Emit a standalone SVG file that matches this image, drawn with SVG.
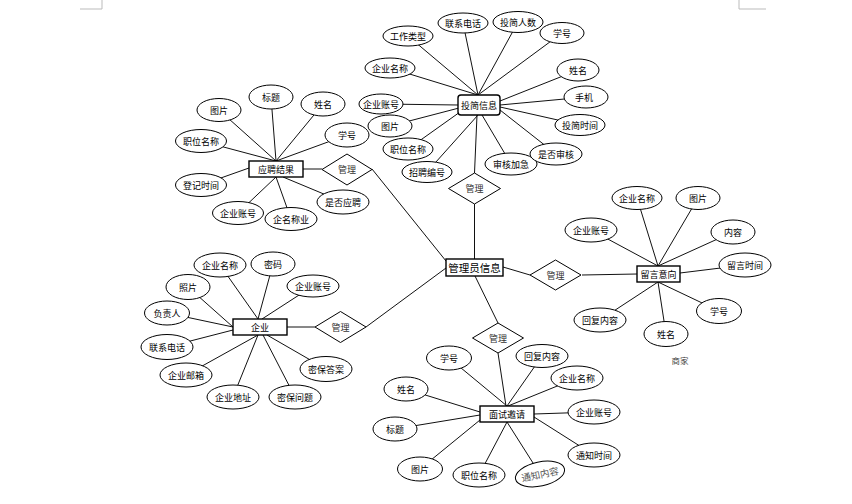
<svg xmlns="http://www.w3.org/2000/svg" width="852" height="504" viewBox="0 0 852 504">
<style>
text{font-family:"Noto Sans CJK SC","Noto Sans",sans-serif;font-size:9px;fill:#000;text-anchor:middle;dominant-baseline:central}
.e{fill:#fff;stroke:#000;stroke-width:1}
.b{fill:#fff;stroke:#000;stroke-width:1.4}
.d{fill:#fff;stroke:#000;stroke-width:1}
.c line{stroke:#111;stroke-width:1}
.m{fill:#333}
.mark{stroke:#bbb;stroke-width:1;fill:none}
</style>
<rect width="852" height="504" fill="#fff"/>
<path class="mark" d="M102,0V9H80M739,0V9H766"/>
<g id="connectors" class="c">
<line x1="474.5" y1="204" x2="474.5" y2="259"/>
<line x1="477" y1="115" x2="474.5" y2="173"/>
<line x1="372" y1="169" x2="446" y2="261"/>
<line x1="303" y1="169" x2="322" y2="169"/>
<line x1="366" y1="327" x2="446" y2="268"/>
<line x1="287" y1="327" x2="315" y2="327"/>
<line x1="475" y1="276" x2="498" y2="323"/>
<line x1="498" y1="353" x2="506" y2="406"/>
<line x1="503" y1="267" x2="530" y2="275"/>
<line x1="582" y1="275" x2="637" y2="274"/>
<line x1="408" y1="36" x2="478" y2="95"/>
<line x1="463" y1="23" x2="478" y2="95"/>
<line x1="518" y1="22" x2="478" y2="95"/>
<line x1="562" y1="33" x2="478" y2="95"/>
<line x1="390" y1="68" x2="478" y2="95"/>
<line x1="578" y1="70" x2="500" y2="101"/>
<line x1="586" y1="97" x2="500" y2="105"/>
<line x1="580" y1="125" x2="500" y2="107"/>
<line x1="556" y1="154" x2="500" y2="110"/>
<line x1="511" y1="164" x2="482" y2="115"/>
<line x1="427" y1="172" x2="478" y2="115"/>
<line x1="408" y1="149" x2="460" y2="112"/>
<line x1="390" y1="126" x2="459" y2="108"/>
<line x1="383" y1="104" x2="458" y2="105"/>
<line x1="219" y1="110" x2="276" y2="161"/>
<line x1="271" y1="97" x2="276" y2="161"/>
<line x1="323" y1="104" x2="276" y2="161"/>
<line x1="347" y1="135" x2="276" y2="161"/>
<line x1="201" y1="141" x2="276" y2="161"/>
<line x1="201" y1="185" x2="249" y2="168"/>
<line x1="238" y1="213" x2="276" y2="177"/>
<line x1="291" y1="219" x2="276" y2="177"/>
<line x1="343" y1="202" x2="283" y2="177"/>
<line x1="220" y1="265" x2="258" y2="319"/>
<line x1="273" y1="264" x2="258" y2="319"/>
<line x1="313" y1="286" x2="262" y2="319"/>
<line x1="188" y1="287" x2="233" y2="327"/>
<line x1="167" y1="313" x2="233" y2="327"/>
<line x1="167" y1="347" x2="233" y2="330"/>
<line x1="186" y1="375" x2="258" y2="335"/>
<line x1="233" y1="397" x2="258" y2="335"/>
<line x1="295" y1="397" x2="263" y2="335"/>
<line x1="326" y1="369" x2="267" y2="335"/>
<line x1="449" y1="358" x2="507" y2="406"/>
<line x1="542" y1="356" x2="507" y2="406"/>
<line x1="577" y1="378" x2="508" y2="406"/>
<line x1="406" y1="389" x2="480" y2="412"/>
<line x1="395" y1="429" x2="480" y2="415"/>
<line x1="594" y1="412" x2="534" y2="414"/>
<line x1="594" y1="455" x2="534" y2="417"/>
<line x1="420" y1="469" x2="480" y2="420"/>
<line x1="479" y1="475" x2="507" y2="422"/>
<line x1="540" y1="474" x2="507" y2="422"/>
<line x1="637" y1="198" x2="658" y2="266"/>
<line x1="698" y1="198" x2="658" y2="266"/>
<line x1="591" y1="230" x2="658" y2="266"/>
<line x1="733" y1="232" x2="658" y2="266"/>
<line x1="745" y1="265" x2="680" y2="273"/>
<line x1="719" y1="311" x2="658" y2="282"/>
<line x1="600" y1="320" x2="658" y2="282"/>
<line x1="666" y1="334" x2="658" y2="282"/>
</g>
<g id="admin"><rect class="b" x="446" y="259" width="57" height="17" stroke-width="1.6"/><text x="474.5" y="267.5" style="font-size:10.5px">管理员信息</text></g>
<g id="rel-top"><polygon class="d" points="448.5,188.5 474.5,173 500.5,188.5 474.5,204"/><text class="m" x="474.5" y="188.5">管理</text></g>
<g id="rel-left-top"><polygon class="d" points="322,169.5 347,154 372,169.5 347,185"/><text class="m" x="347" y="169.5">管理</text></g>
<g id="rel-left-bottom"><polygon class="d" points="315,327 340.5,311.5 366,327 340.5,342.5"/><text class="m" x="340.5" y="327">管理</text></g>
<g id="rel-bottom"><polygon class="d" points="472.5,338 498,323 523.5,338 498,353"/><text class="m" x="498" y="338">管理</text></g>
<g id="rel-right"><polygon class="d" points="530,275 555.5,260 581,275 555.5,290"/><text class="m" x="555.5" y="275">管理</text></g>
<g id="toujian"><rect class="b" x="458" y="95" width="42" height="20" rx="3"/><text x="479" y="105">投简信息</text></g>
<g id="tj-gzlx"><ellipse class="e" cx="408" cy="36" rx="25" ry="10"/><text x="408" y="36">工作类型</text></g>
<g id="tj-lxdh"><ellipse class="e" cx="463" cy="23" rx="25" ry="10"/><text x="463" y="23">联系电话</text></g>
<g id="tj-tjrs"><ellipse class="e" cx="518" cy="22" rx="25" ry="10.5"/><text x="518" y="22">投简人数</text></g>
<g id="tj-xh"><ellipse class="e" cx="562" cy="33" rx="22" ry="10.5"/><text x="562" y="33">学号</text></g>
<g id="tj-qymc"><ellipse class="e" cx="390" cy="68" rx="25" ry="10"/><text x="390" y="68">企业名称</text></g>
<g id="tj-xm"><ellipse class="e" cx="578" cy="70" rx="21" ry="11"/><text x="578" y="70">姓名</text></g>
<g id="tj-sj"><ellipse class="e" cx="586" cy="97" rx="22" ry="11"/><text x="584" y="97">手机</text></g>
<g id="tj-qyzh"><ellipse class="e" cx="381" cy="104" rx="22" ry="10"/><text x="381" y="104">企业账号</text></g>
<g id="tj-tp"><ellipse class="e" cx="390" cy="126" rx="22" ry="11"/><text x="390" y="126">图片</text></g>
<g id="tj-zwmc"><ellipse class="e" cx="408" cy="149" rx="25" ry="11"/><text x="408" y="149">职位名称</text></g>
<g id="tj-zpbh"><ellipse class="e" cx="427" cy="172" rx="25" ry="10.5"/><text x="427" y="172">招聘编号</text></g>
<g id="tj-shjj"><ellipse class="e" cx="511" cy="164" rx="26" ry="11"/><text x="511" y="164">审核加急</text></g>
<g id="tj-sfsh"><ellipse class="e" cx="556" cy="154" rx="26" ry="11"/><text x="556" y="154">是否审核</text></g>
<g id="tj-tjsj"><ellipse class="e" cx="580" cy="125" rx="25" ry="10.5"/><text x="580" y="125">投简时间</text></g>
<g id="yingpin"><rect class="b" x="249" y="161" width="54" height="16"/><text x="276" y="169">应聘结果</text></g>
<g id="yp-tp"><ellipse class="e" cx="219" cy="110" rx="22" ry="11.5"/><text x="219" y="110">图片</text></g>
<g id="yp-bt"><ellipse class="e" cx="271" cy="97" rx="22" ry="12"/><text x="271" y="97">标题</text></g>
<g id="yp-xm"><ellipse class="e" cx="323" cy="104" rx="22" ry="12"/><text x="323" y="104">姓名</text></g>
<g id="yp-xh"><ellipse class="e" cx="347" cy="135" rx="22" ry="12"/><text x="347" y="135">学号</text></g>
<g id="yp-zwmc"><ellipse class="e" cx="201" cy="141" rx="25.5" ry="11.5"/><text x="201" y="141">职位名称</text></g>
<g id="yp-djsj"><ellipse class="e" cx="201" cy="185" rx="25.5" ry="11.5"/><text x="201" y="185">登记时间</text></g>
<g id="yp-qyzh"><ellipse class="e" cx="238" cy="213" rx="25.5" ry="11.5"/><text x="238" y="213">企业账号</text></g>
<g id="yp-qmcy"><ellipse class="e" cx="291" cy="219" rx="26" ry="11.5"/><text x="291" y="219">企名称业</text></g>
<g id="yp-sfyp"><ellipse class="e" cx="343" cy="202" rx="26" ry="12"/><text x="343" y="202">是否应聘</text></g>
<g id="qiye"><rect class="b" x="233" y="319" width="54" height="16"/><text x="260" y="327">企业</text></g>
<g id="qy-qymc"><ellipse class="e" cx="220" cy="265" rx="26" ry="12"/><text x="220" y="265">企业名称</text></g>
<g id="qy-mm"><ellipse class="e" cx="273" cy="264" rx="22" ry="12"/><text x="273" y="264">密码</text></g>
<g id="qy-qyzh"><ellipse class="e" cx="313" cy="286" rx="26" ry="11"/><text x="313" y="286">企业账号</text></g>
<g id="qy-zp"><ellipse class="e" cx="188" cy="287" rx="22" ry="12.5"/><text x="188" y="287">照片</text></g>
<g id="qy-fzr"><ellipse class="e" cx="167" cy="313" rx="22.5" ry="12"/><text x="167" y="313">负责人</text></g>
<g id="qy-lxdh"><ellipse class="e" cx="167" cy="347" rx="26" ry="12.5"/><text x="167" y="347">联系电话</text></g>
<g id="qy-qyyx"><ellipse class="e" cx="186" cy="375" rx="26" ry="12"/><text x="186" y="375">企业邮箱</text></g>
<g id="qy-qydz"><ellipse class="e" cx="233" cy="397" rx="26" ry="12"/><text x="233" y="397">企业地址</text></g>
<g id="qy-mbwt"><ellipse class="e" cx="295" cy="397" rx="26" ry="12"/><text x="295" y="397">密保问题</text></g>
<g id="qy-mbda"><ellipse class="e" cx="326" cy="369" rx="26" ry="12.5"/><text x="326" y="369">密保答案</text></g>
<g id="mianshi"><rect class="b" x="480" y="406" width="54" height="16"/><text x="507" y="414">面试邀请</text></g>
<g id="ms-xh"><ellipse class="e" cx="449" cy="358" rx="22.5" ry="12"/><text x="449" y="358">学号</text></g>
<g id="ms-hfnr"><ellipse class="e" cx="542" cy="356" rx="26" ry="11.5"/><text x="542" y="356">回复内容</text></g>
<g id="ms-qymc"><ellipse class="e" cx="577" cy="378" rx="26" ry="12"/><text x="577" y="378">企业名称</text></g>
<g id="ms-xm"><ellipse class="e" cx="406" cy="389" rx="22" ry="12"/><text x="406" y="389">姓名</text></g>
<g id="ms-qyzh"><ellipse class="e" cx="594" cy="412" rx="26" ry="12"/><text x="594" y="412">企业账号</text></g>
<g id="ms-bt"><ellipse class="e" cx="395" cy="429" rx="22" ry="12"/><text x="395" y="429">标题</text></g>
<g id="ms-tzsj"><ellipse class="e" cx="594" cy="455" rx="26" ry="12"/><text x="594" y="455">通知时间</text></g>
<g id="ms-tp"><ellipse class="e" cx="420" cy="469" rx="22.5" ry="12"/><text x="420" y="469">图片</text></g>
<g id="ms-zwmc"><ellipse class="e" cx="479" cy="475" rx="26" ry="12"/><text x="479" y="475">职位名称</text></g>
<g id="ms-tznr" transform="rotate(-12 540 474)"><ellipse class="e" cx="540" cy="474" rx="25" ry="12" stroke="#555"/><text x="540" y="474" style="fill:#555;font-size:9.5px">通知内容</text></g>
<g id="liuyan"><rect class="b" x="637" y="266" width="43" height="16"/><text x="658.5" y="274">留言意向</text></g>
<g id="ly-qymc"><ellipse class="e" cx="637" cy="198" rx="25" ry="11.5"/><text x="637" y="198">企业名称</text></g>
<g id="ly-tp"><ellipse class="e" cx="698" cy="198" rx="22" ry="11.5"/><text x="698" y="198">图片</text></g>
<g id="ly-qyzh"><ellipse class="e" cx="591" cy="230" rx="26" ry="12"/><text x="591" y="230">企业账号</text></g>
<g id="ly-nr"><ellipse class="e" cx="733" cy="232" rx="22" ry="12"/><text x="733" y="232">内容</text></g>
<g id="ly-lysj"><ellipse class="e" cx="745" cy="265" rx="26" ry="12"/><text x="745" y="265">留言时间</text></g>
<g id="ly-xh"><ellipse class="e" cx="719" cy="311" rx="22.5" ry="12.5"/><text x="719" y="311">学号</text></g>
<g id="ly-hfnr"><ellipse class="e" cx="600" cy="320" rx="26" ry="12"/><text x="600" y="320">回复内容</text></g>
<g id="ly-xm"><ellipse class="e" cx="666" cy="334" rx="22" ry="12.5"/><text x="666" y="334">姓名</text></g>
<text x="680" y="360" style="fill:#444;font-size:8.5px">商家</text>
</svg>
